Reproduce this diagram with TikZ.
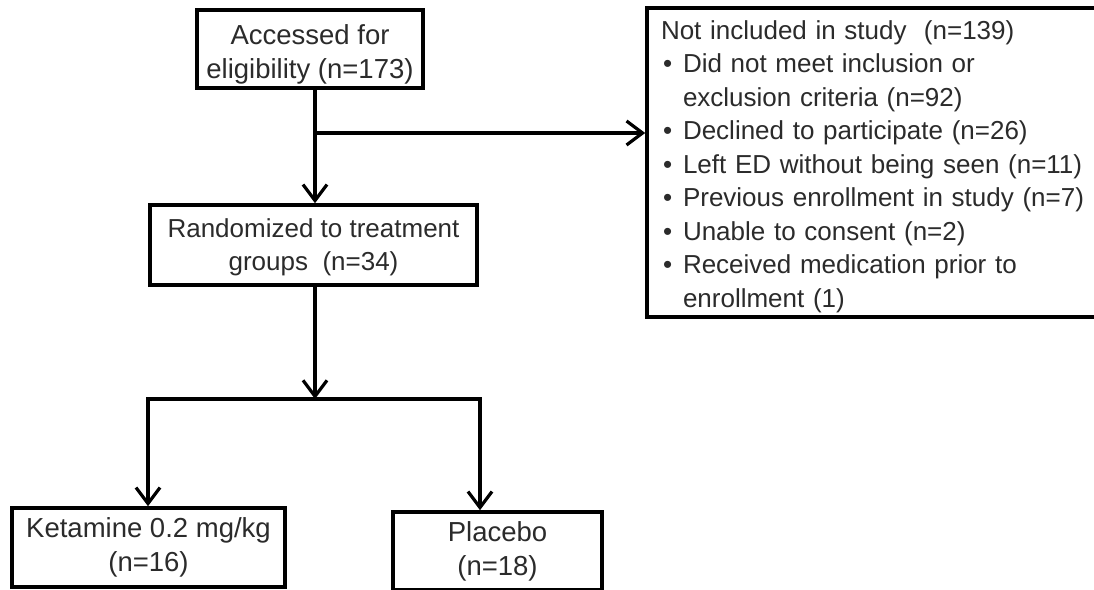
\documentclass[tikz,border=0pt]{standalone}
\usepackage{fontspec}
\setmainfont{Liberation Sans}
\usetikzlibrary{arrows.meta}
\definecolor{txt}{HTML}{2B2B2B}
\newcommand{\bul}{\makebox[22pt][l]{\hspace{2pt}\textbullet}}
\begin{document}
\begin{tikzpicture}[x=1pt,y=-1pt,
  box/.style={draw=black, line width=3.6pt, fill=white, text=txt, align=center,
    font=\fontsize{26}{33.5}\selectfont, inner sep=0pt},
  bigbox/.style={box, font=\fontsize{27.5}{34}\selectfont},
  conn/.style={line width=3.2pt, draw=black, line cap=rect},
  arr/.style={line width=3.2pt, draw=black, -{Straight Barb[length=16pt,width=24pt,line width=3.2pt]}}]
\fill[white] (0,0) rectangle (1094,589);
\useasboundingbox (0,0) rectangle (1094,589);
\node[bigbox, minimum width=226pt, minimum height=78pt] (acc) at (310,49) {\rule{0pt}{31pt}Accessed for\\eligibility (n=173)};
\node[box, minimum width=327pt, minimum height=80pt] (rand) at (313.5,245) {\rule{0pt}{23pt}Randomized to treatment\\groups\ \ (n=34)};
\node[box, minimum width=453pt, minimum height=309pt, align=left, text width=425pt, inner xsep=14pt] (excl) at (873.5,162.5)
{\rule{0pt}{27pt}Not included in study\ \ (n=139)\\
\bul Did not meet inclusion or\\
\hspace*{22pt}exclusion criteria (n=92)\\
\bul Declined to participate (n=26)\\
\bul Left ED without being seen (n=11)\\
\bul Previous enrollment in study (n=7)\\
\bul Unable to consent (n=2)\\
\bul Received medication prior to\\
\hspace*{22pt}enrollment (1)};
\node[bigbox, minimum width=273pt, minimum height=79pt] (keta) at (148.5,547.5) {Ketamine 0.2 mg/kg\\(n=16)};
\node[bigbox, minimum width=209pt, minimum height=78pt] (plac) at (497.5,551) {\rule{0pt}{21pt}Placebo\\(n=18)};
\coordinate (j1) at (315,133);
\coordinate (j2) at (315,399);
\coordinate (jl) at (148,399);
\coordinate (jr) at (480,399);
\draw[conn] (acc.south -| j1) -- (j1);
\draw[arr] (j1) -- (j1 |- rand.north);
\draw[arr] (j1) -- (j1 -| excl.west);
\draw[arr] (rand.south -| j2) -- (j2);
\draw[conn] (jl) -- (jr);
\draw[arr] (jl) -- (jl |- keta.north);
\draw[arr] (jr) -- (jr |- plac.north);
\end{tikzpicture}
\end{document}
